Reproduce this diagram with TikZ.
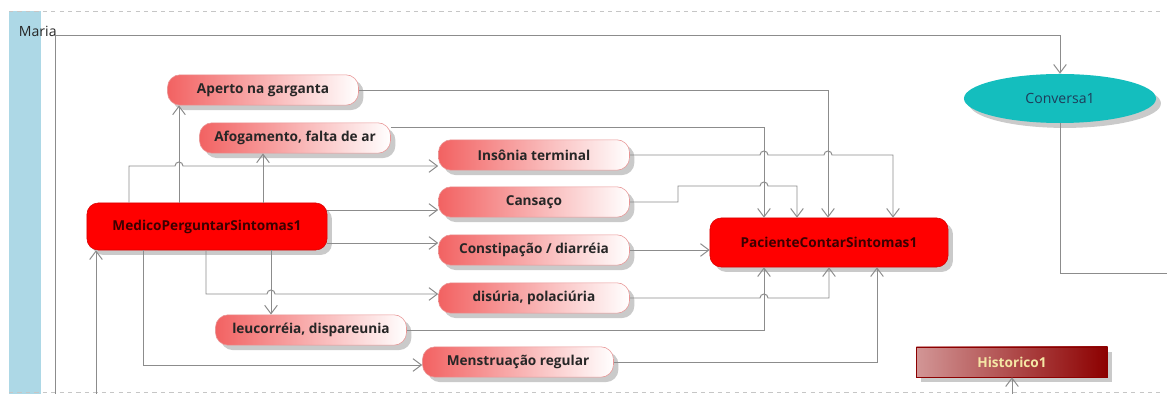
\documentclass[tikz,border=0pt]{standalone}
\usepackage{fontspec}
\setmainfont{Open Sans}
\usetikzlibrary{arrows.meta,shadows,shapes.geometric}

\definecolor{lanebar}{RGB}{173,216,230}
\definecolor{linegray}{RGB}{140,140,140}
\definecolor{salmon}{RGB}{242,98,98}
\definecolor{pinkline}{RGB}{232,150,150}
\definecolor{darktext}{RGB}{60,0,0}
\definecolor{convfill}{RGB}{20,190,190}
\definecolor{convtext}{RGB}{30,60,90}
\definecolor{histdark}{RGB}{140,0,0}
\definecolor{histlight}{RGB}{210,150,150}
\definecolor{histtext}{RGB}{245,230,165}

\begin{document}
\begin{tikzpicture}[x=0.025cm,y=0.025cm,
  conn/.style={draw=linegray,line width=0.7pt},
  arr/.style={conn,-{Straight Barb[length=6pt,width=9pt]}},
  boxshadow/.style={drop shadow={shadow xshift=3.5pt,shadow yshift=-3.5pt,fill=black!35,opacity=0.6}},
  symptom/.style={boxshadow,draw=pinkline,rounded corners=9pt,left color=salmon,right color=white,
    minimum width=4.775cm,minimum height=0.76cm,inner sep=0pt,
    font=\fontsize{9.7}{11}\selectfont\bfseries,text=black!85},
  action/.style={boxshadow,draw=red!85!black,fill=red,rounded corners=8pt,inner sep=0pt,
    font=\fontsize{9.7}{11}\selectfont\bfseries,text=darktext},
  usecase/.style={boxshadow,ellipse,fill=convfill,minimum width=4.8cm,minimum height=1.225cm,
    inner sep=0pt,font=\fontsize{10}{12}\selectfont,text=convtext},
  histbox/.style={boxshadow,draw=histdark,left color=histlight,right color=histdark,
    minimum width=4.775cm,minimum height=0.75cm,inner sep=0pt,
    font=\fontsize{9.7}{11}\selectfont\bfseries,text=histtext}]

\useasboundingbox (0,0) rectangle (1167,394);

% Lane
\fill[lanebar] (9,0) rectangle (41,383);
\draw[linegray!50,dashed] (9,383) -- (1160,383);
\draw[linegray!50,dashed] (9,2) -- (1160,2);
\node[anchor=west,font=\fontsize{10}{12}\selectfont,text=black!85] (maria) at (14,363) {Maria};

% Nodes
\node[symptom] (aperto) at (263,304) {Aperto na garganta};
\node[symptom] (afog) at (295,256) {Afogamento, falta de ar};
\node[symptom] (insonia) at (534,239) {Insônia terminal};
\node[symptom] (cansaco) at (534,192) {Cansaço};
\node[symptom] (constip) at (534,144) {Constipação / diarréia};
\node[symptom] (disuria) at (534,96) {disúria, polaciúria};
\node[symptom] (leucor) at (311,64) {leucorréia, dispareunia};
\node[symptom] (menstr) at (518,32) {Menstruação regular};
\node[action,minimum width=6cm,minimum height=1.175cm] (medico) at (207,167.5) {MedicoPerguntarSintomas1};
\node[action,minimum width=5.95cm,minimum height=1.225cm] (paciente) at (829,151.5) {PacienteContarSintomas1};
\node[usecase] (conversa) at (1060,295.5) {Conversa1};
\node[histbox] (historico) at (1012,32) {Historico1};

% Lane flow
\coordinate (lanein) at (55,0);
\coordinate (laneout) at (1167,121);
\coordinate (medicoin) at (96,0);
\coordinate (histin) at (1012,0);
\draw[arr] (lanein) -- (55,359) -| (conversa.north);
\draw[conn] (conversa.south) |- (laneout);
\draw[arr] (medicoin) -- (medicoin |- medico.south);
\draw[arr] (histin) -- (histin |- historico.south);

% Medico asks
\draw[arr] (medico.north -| 179,0) -- (aperto.south -| 179,0);
\draw[arr] (medico.north -| 263,0) -- (afog.south -| 263,0);
\draw[arr] (medico.north -| 129,0) -- (129,228) -- (175,228)
  arc[start angle=180,end angle=0,radius=4] -- (insonia.west |- 0,228);
\draw[arr] (medico.east |- 0,184) -- (cansaco.west |- 0,184);
\draw[arr] (medico.east |- 0,151) -- (constip.west |- 0,151);
\draw[arr] (medico.south -| 206,0) -- (206,100) -- (267,100)
  arc[start angle=180,end angle=0,radius=4] -- (disuria.west |- 0,100);
\draw[arr] (medico.south -| 271,0) -- (leucor.north -| 271,0);
\draw[arr] (medico.south -| 143,0) |- (menstr.west |- 0,29);

% Paciente answers
\draw[arr] (aperto.east) -| (paciente.north -| 828,0);
\draw[arr] (afog.east |- 0,267) -| (paciente.north -| 764,0);
\draw[arr] (insonia.east) -- (760,239) arc[start angle=180,end angle=0,radius=4]
  -- (824,239) arc[start angle=180,end angle=0,radius=4] -| (paciente.north -| 893,0);
\draw[arr] (cansaco.east) -- (678,192) -- (678,208) -- (760,208)
  arc[start angle=180,end angle=0,radius=4] -| (paciente.north -| 797,0);
\draw[arr] (constip.east) -- (paciente.west |- constip.east);
\draw[arr] (disuria.east) -- (760,96) arc[start angle=180,end angle=0,radius=4]
  -| (paciente.south -| 829,0);
\draw[arr] (leucor.east) -| (paciente.south -| 764,0);
\draw[arr] (menstr.east) -| (paciente.south -| 877,0);

\end{tikzpicture}
\end{document}
